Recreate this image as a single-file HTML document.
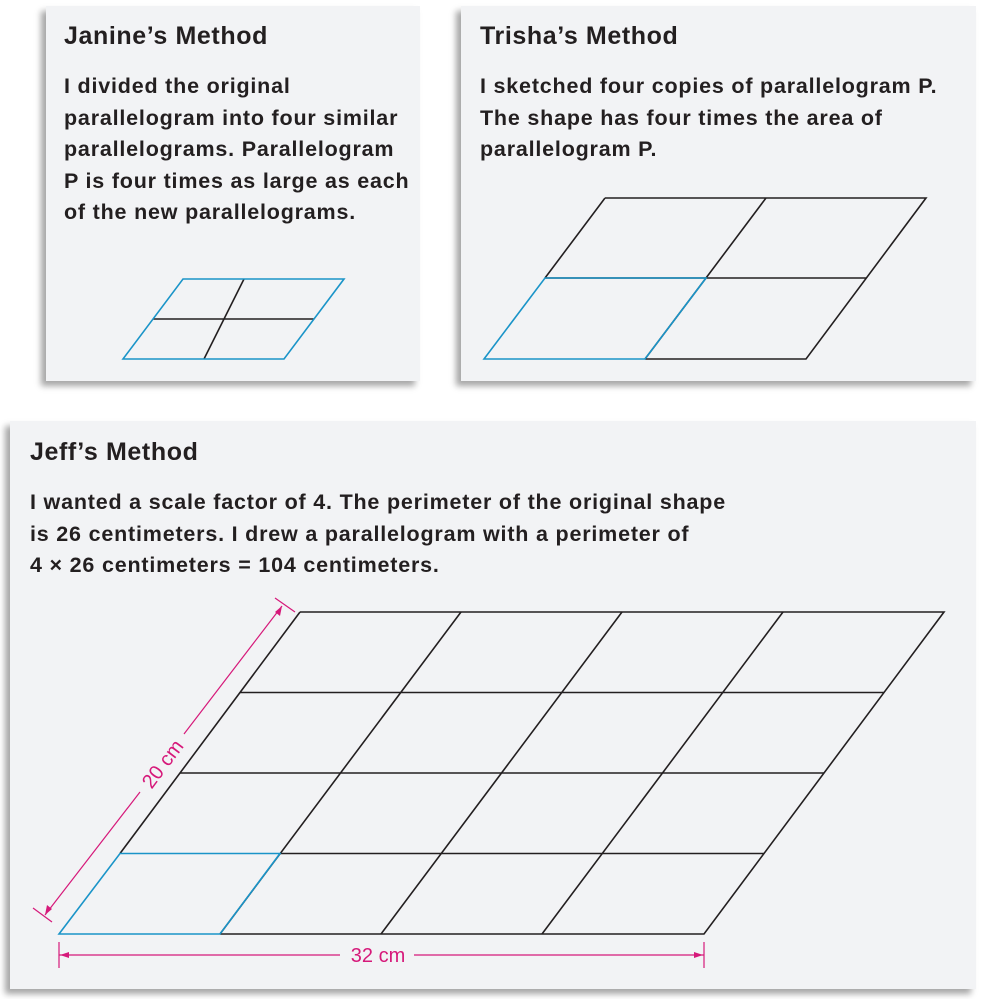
<!DOCTYPE html>
<html><head><meta charset="utf-8"><style>
body{margin:0;width:990px;height:999px;background:#fff;position:relative;overflow:hidden;font-family:"Liberation Sans",sans-serif;}
.card{position:absolute;background:#f2f3f5;box-shadow:-5px 5px 6px rgba(0,0,0,0.35);}
.t{position:absolute;font-weight:bold;color:#231f20;font-size:25px;letter-spacing:0.6px;}
.p{position:absolute;font-weight:bold;color:#231f20;font-size:21.5px;line-height:31.5px;letter-spacing:0.8px;}
svg{position:absolute;left:0;top:0}
</style></head><body>
<div class="card" style="left:46px;top:6px;width:374px;height:375px"></div>
<div class="card" style="left:461px;top:6px;width:515px;height:375px"></div>
<div class="card" style="left:10px;top:421px;width:966px;height:568px"></div>
<div class="t" style="left:64px;top:22px">Janine’s Method</div>
<div class="p" style="left:64px;top:71px">I divided the original<br>parallelogram into four similar<br>parallelograms. Parallelogram<br>P is four times as large as each<br>of the new parallelograms.</div>
<div class="t" style="left:480px;top:22px">Trisha’s Method</div>
<div class="p" style="left:480px;top:71px">I sketched four copies of parallelogram P.<br>The shape has four times the area of<br>parallelogram P.</div>
<div class="t" style="left:30px;top:438px">Jeff’s Method</div>
<div class="p" style="left:30px;top:487px">I wanted a scale factor of 4. The perimeter of the original shape<br>is 26 centimeters. I drew a parallelogram with a perimeter of<br>4 × 26 centimeters = 104 centimeters.</div>
<svg width="990" height="999">
<g fill="none" stroke-width="1.6">
<path d="M153,319H314M244,279L204,359" stroke="#231f20"/>
<path d="M123,359L183,279H344L284,359Z" stroke="#1a94c8"/>
<path d="M545,278H706L645,359M706,278H866M706,278L766,198M605,198H926L806,359H645M545,278L605,198" stroke="#231f20"/>
<path d="M484,359L545,278H706L645,359Z" stroke="#1a94c8"/>
<g stroke="#231f20">
<path d="M300,612H944L704,934H220"/>
<path d="M240,692.5H884M180,773H824M280,853.5H764"/>
<path d="M300,612L120,853.5M461,612L220,934M622,612L381,934M783,612L542,934"/>
</g>
<path d="M59,934L120,853.5H280L220,934Z" stroke="#1a94c8"/>
<g stroke="#d6197a" stroke-width="1.2">
<path d="M45,915L140,792M184,734L282,606"/>
<path d="M33,908L52,922M275,598L295,612"/>
<path d="M59,955H340M414,955H704M59,942V968M704,942V968"/>
</g>
<g fill="#d6197a"><path d="M45,915l2,-10l5,4z"/><path d="M282,606l-2,10l-5,-4z"/><path d="M60,955l9,-3v6z"/><path d="M703,955l-9,-3v6z"/></g>
</g>
<text x="378" y="962" font-size="20" fill="#d6197a" text-anchor="middle" font-family="Liberation Sans">32 cm</text>
<text x="0" y="0" font-size="20" fill="#d6197a" text-anchor="middle" font-family="Liberation Sans" transform="translate(168,768) rotate(-53)">20 cm</text>
</svg>
</body></html>
